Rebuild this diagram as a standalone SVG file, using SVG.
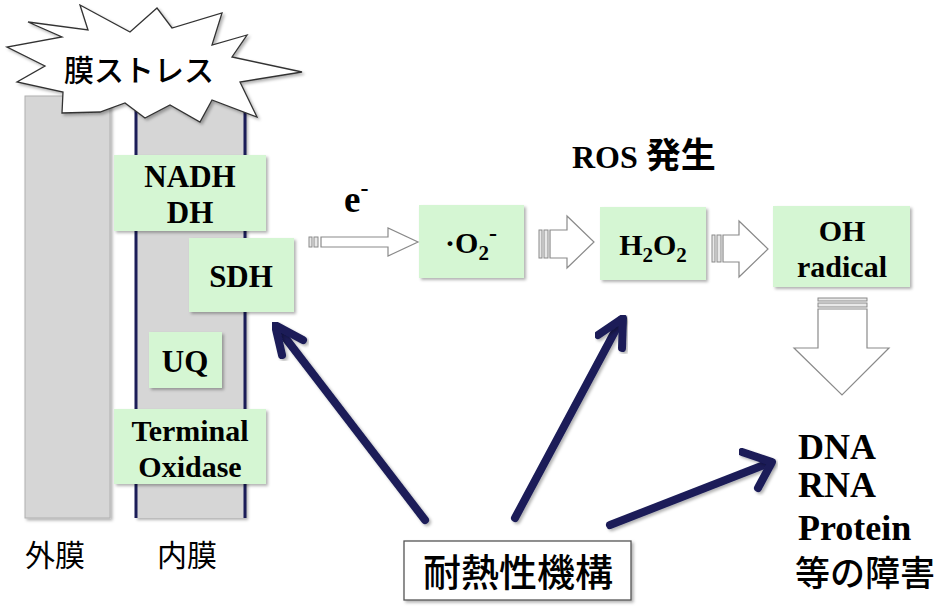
<svg xmlns="http://www.w3.org/2000/svg" width="945" height="609" viewBox="0 0 945 609">
<defs>
<filter id="sh" x="-10%" y="-10%" width="130%" height="130%">
<feDropShadow dx="2" dy="2" stdDeviation="1.5" flood-color="#000" flood-opacity="0.3"/>
</filter>
<style>
.box{fill:#d5f6d3;filter:url(#sh)}
.lbl{font-family:"Liberation Serif","Times New Roman",serif;font-weight:bold;fill:#000;text-anchor:middle}
.lbl.st{text-anchor:start}
.jp{font-family:"Noto Sans CJK JP","Noto Sans",sans-serif;fill:#000}
.hollow{fill:#fff;stroke:#8a8a8a;stroke-width:1.2}
.stripe{fill:#e8e8e8;stroke:#8a8a8a;stroke-width:1}
.navy{stroke:#1b1d58;stroke-width:8;fill:none;stroke-linecap:round;stroke-linejoin:round;filter:url(#sh)}
</style>
</defs>
<rect width="945" height="609" fill="#fff"/>

<g id="outer-membrane">
<rect x="25" y="96" width="85" height="422" fill="#d6d6d6" stroke="#b0b0b0" stroke-width="1" filter="url(#sh)"/>
</g>
<g id="inner-membrane">
<rect x="135" y="97" width="111" height="421" fill="#d6d6d6" filter="url(#sh)"/>
<line x1="136" y1="97" x2="136" y2="518" stroke="#1b1d58" stroke-width="3"/>
<line x1="245" y1="97" x2="245" y2="518" stroke="#1b1d58" stroke-width="3"/>
</g>

<g id="stress">
<polygon points="80,5 130,32 157,8 172,28 222,13 212,45 247,35 232,57 302,72 240,82 257,117 212,100 200,122 170,105 145,118 125,103 100,112 62,113 63,92 17,82 45,66 7,47 62,37 28,22 88,30" fill="#fff" stroke="#333" stroke-width="1.3" filter="url(#sh)"/>
<text class="jp" x="139" y="81" font-size="30" font-weight="500" text-anchor="middle">膜ストレス</text>
</g>

<g id="nadh">
<rect class="box" x="114" y="155" width="152" height="76"/>
<text class="lbl" x="190" y="187" font-size="31">NADH</text>
<text class="lbl" x="190" y="223" font-size="31">DH</text>
</g>
<g id="sdh">
<rect class="box" x="189" y="238" width="105" height="74"/>
<text class="lbl" x="241" y="287" font-size="31">SDH</text>
</g>
<g id="uq">
<rect class="box" x="149" y="332" width="73" height="56"/>
<text class="lbl" x="185" y="372" font-size="31">UQ</text>
</g>
<g id="terminal">
<rect class="box" x="114" y="409" width="152" height="75"/>
<text class="lbl" x="190" y="441" font-size="30">Terminal</text>
<text class="lbl" x="190" y="477" font-size="30">Oxidase</text>
</g>

<g id="o2">
<rect class="box" x="419" y="205" width="105" height="73"/>
<text class="lbl" x="471" y="253" font-size="30">·O<tspan font-size="21" dy="7">2</tspan><tspan font-size="24" dy="-19">-</tspan></text>
</g>
<g id="h2o2">
<rect class="box" x="600" y="207" width="106" height="73"/>
<text class="lbl" x="653" y="255" font-size="30">H<tspan font-size="21" dy="7">2</tspan><tspan dy="-7">O</tspan><tspan font-size="21" dy="7">2</tspan></text>
</g>
<g id="oh">
<rect class="box" x="773" y="206" width="137" height="81"/>
<text class="lbl" x="842" y="241" font-size="30">OH</text>
<text class="lbl" x="842" y="277" font-size="30">radical</text>
</g>

<g id="labels">
<text class="lbl st" x="344" y="212" font-size="37">e<tspan font-size="24" dy="-16">-</tspan></text>
<text class="lbl st" x="572" y="168" font-size="32">ROS <tspan class="jp" font-size="35" font-weight="bold">発生</tspan></text>
<text class="jp" x="25" y="566" font-size="30">外膜</text>
<text class="jp" x="157" y="566" font-size="30">内膜</text>
<text class="lbl st" x="798" y="459" font-size="36">DNA</text>
<text class="lbl st" x="798" y="497" font-size="36">RNA</text>
<text class="lbl st" x="798" y="540" font-size="36">Protein</text>
<text class="jp" x="795" y="586" font-size="35" font-weight="500">等の障害</text>
</g>

<g id="heat">
<rect x="404" y="541" width="227" height="59" fill="#fff" stroke="#555" stroke-width="1.3" filter="url(#sh)"/>
<text class="jp" x="518" y="586" font-size="38" font-weight="500" text-anchor="middle">耐熱性機構</text>
</g>

<g id="connectors">
<rect class="stripe" x="309" y="237" width="3" height="10"/>
<rect class="stripe" x="314" y="237" width="4" height="10"/>
<polygon class="hollow" points="321,237 388,237 388,228 418,242 388,256 388,247 321,247"/>

<rect class="stripe" x="539" y="230" width="3" height="28"/>
<rect class="stripe" x="544" y="230" width="4" height="28"/>
<polygon class="hollow" points="550,230 567,230 567,216 594,242 567,268 567,258 550,258"/>

<rect class="stripe" x="712" y="235" width="3" height="27"/>
<rect class="stripe" x="717" y="235" width="4" height="27"/>
<polygon class="hollow" points="723,235 739,235 739,221 768,249 739,277 739,262 723,262"/>

<rect class="stripe" x="818" y="298" width="49" height="3"/>
<rect class="stripe" x="818" y="303" width="49" height="4"/>
<polygon class="hollow" points="818,309 867,309 867,348 889,348 842,395 794,348 818,348"/>

<line class="navy" x1="425" y1="520" x2="277" y2="327"/>
<polyline class="navy" points="303,340 275,325 282,355"/>
<line class="navy" x1="515" y1="518" x2="621" y2="320"/>
<polyline class="navy" points="598,335 623,318 622,348"/>
<line class="navy" x1="610" y1="525" x2="769" y2="463"/>
<polyline class="navy" points="742,452 772,462 758,488"/>
</g>
</svg>
